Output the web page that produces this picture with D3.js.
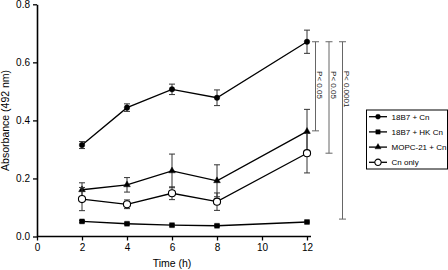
<!DOCTYPE html>
<html>
<head>
<meta charset="utf-8">
<script src="https://cdn.jsdelivr.net/npm/d3@7"></script>
<style>
  body { margin: 0; background: #fff; }
  svg { font-family: Arial, "Liberation Sans", sans-serif; }
</style>
</head>
<body>
<svg width="448" height="270"></svg>
<script>
const times = [2, 4, 6, 8, 12];
const seriesNames = ["18B7 + Cn", "18B7 + HK Cn", "MOPC-21 + Cn", "Cn only"];
const mean18B7 = [0.315, 0.444, 0.507, 0.478, 0.671];
const err18B7 = [0.012, 0.013, 0.018, 0.027, 0.04];
const meanHK = [0.052, 0.044, 0.039, 0.037, 0.05];
const errHK = [0.003, 0.003, 0.003, 0.003, 0.003];
const meanMOPC = [0.161, 0.178, 0.226, 0.192, 0.362];
const errMOPC = [0.024, 0.025, 0.058, 0.055, 0.076];
const meanCn = [0.129, 0.111, 0.149, 0.12, 0.287];
const errCn = [0.04, 0.015, 0.022, 0.03, 0.068];
const xTicks = [0, 2, 4, 6, 8, 10, 12];
const yTicks = [0.0, 0.2, 0.4, 0.6, 0.8];
const bracketTop = [0.671, 0.671, 0.671];
const bracketBottom = [0.364, 0.287, 0.06];
const bracketLabels = ["P< 0.05", "P< 0.05", "P< 0.0001"];

const svg = d3.select("svg");

const x = d3.scaleLinear().domain([0, 12]).range([37, 307]);
const y = d3.scaleLinear().domain([0, 0.8]).range([236.5, 4.3]);

const series = [
  { name: seriesNames[0], mean: mean18B7, err: err18B7, shape: "circle" },
  { name: seriesNames[1], mean: meanHK, err: errHK, shape: "square" },
  { name: seriesNames[2], mean: meanMOPC, err: errMOPC, shape: "triangle" },
  { name: seriesNames[3], mean: meanCn, err: errCn, shape: "open" },
];

const symbolPath = (shape, k) => {
  if (shape === "square") return d3.symbol(d3.symbolSquare, 24 * k)();
  if (shape === "triangle") return d3.symbol(d3.symbolTriangle, 20 * k)();
  if (shape === "open") return d3.symbol(d3.symbolCircle, 40 * k)();
  return d3.symbol(d3.symbolCircle, 24 * k)();
};

const drawMarker = (sel, shape, k = 1) => {
  sel.append("path")
    .attr("d", symbolPath(shape, k))
    .attr("fill", shape === "open" ? "#fff" : "#000")
    .attr("stroke", "#000")
    .attr("stroke-width", shape === "open" ? 1.1 : 0.4);
};

// axes
const xAxis = d3.axisBottom(x).tickValues(xTicks).tickFormat(d3.format("d")).tickSize(4).tickSizeOuter(0).tickPadding(3);
const yAxis = d3.axisLeft(y).tickValues(yTicks).tickFormat(d3.format(".1f")).tickSize(4).tickSizeOuter(0).tickPadding(3);

const gx = svg.append("g").attr("transform", `translate(0,${y(0)})`).call(xAxis);
const gy = svg.append("g").attr("transform", `translate(${x(0)},0)`).call(yAxis);
[gx, gy].forEach((g) => {
  g.select(".domain").attr("stroke-width", 1.6);
  g.selectAll(".tick line").attr("stroke-width", 1.3);
  g.selectAll(".tick text").attr("font-size", 10).attr("fill", "#000").attr("font-family", "Arial, 'Liberation Sans', sans-serif");
});
gx.select(".domain").attr("d", `M${x(0)},0H${x(12) + 4}`);

svg.append("text")
  .attr("x", 172).attr("y", 267)
  .attr("text-anchor", "middle").attr("font-size", 10.5)
  .text("Time (h)");

svg.append("text")
  .attr("transform", `translate(9,${(y(0) + y(0.8)) / 2}) rotate(-90)`)
  .attr("text-anchor", "middle").attr("font-size", 10.5)
  .text("Absorbance (492 nm)");

// lines, error bars, markers
const line = d3.line().x((d) => x(d.t)).y((d) => y(d.v));

series.forEach((s) => {
  const pts = times.map((t, i) => ({ t, v: s.mean[i], e: s.err[i] }));
  const g = svg.append("g");

  g.append("path")
    .attr("d", line(pts))
    .attr("fill", "none")
    .attr("stroke", "#000")
    .attr("stroke-width", 1.3);

  const eb = g.selectAll("g.eb").data(pts).enter().append("g").attr("class", "eb");
  eb.append("line")
    .attr("x1", (d) => x(d.t)).attr("x2", (d) => x(d.t))
    .attr("y1", (d) => y(d.v - d.e)).attr("y2", (d) => y(d.v + d.e))
    .attr("stroke", "#333").attr("stroke-width", 1);
  [-1, 1].forEach((sgn) => {
    eb.append("line")
      .attr("x1", (d) => x(d.t) - 3).attr("x2", (d) => x(d.t) + 3)
      .attr("y1", (d) => y(d.v + sgn * d.e)).attr("y2", (d) => y(d.v + sgn * d.e))
      .attr("stroke", "#333").attr("stroke-width", 1);
  });

  g.selectAll("g.mk").data(pts).enter().append("g")
    .attr("class", "mk")
    .attr("transform", (d) => `translate(${x(d.t)},${y(d.v)})`)
    .each(function () { drawMarker(d3.select(this), s.shape); });
});

// significance brackets
const bracketX = [315.5, 329, 342.5];
bracketLabels.forEach((lab, i) => {
  const g = svg.append("g").attr("stroke", "#666").attr("stroke-width", 1);
  const bx = bracketX[i];
  g.append("line").attr("x1", bx).attr("x2", bx).attr("y1", y(bracketTop[i])).attr("y2", y(bracketBottom[i]));
  g.append("line").attr("x1", bx - 3.5).attr("x2", bx + 3.5).attr("y1", y(bracketTop[i])).attr("y2", y(bracketTop[i]));
  g.append("line").attr("x1", bx - 3.5).attr("x2", bx + 3.5).attr("y1", y(bracketBottom[i])).attr("y2", y(bracketBottom[i]));
  svg.append("text")
    .attr("transform", `translate(${bx + 1.5},${i === 2 ? 89 : 85}) rotate(90)`)
    .attr("text-anchor", "middle")
    .attr("font-size", 8)
    .attr("fill", "#222")
    .text(lab);
});

// legend
const legend = svg.append("g");
legend.append("rect")
  .attr("x", 366.5).attr("y", 110)
  .attr("width", 81).attr("height", 59)
  .attr("fill", "#fff").attr("stroke", "#000").attr("stroke-width", 1);

series.forEach((s, i) => {
  const ly = 116.7 + i * 15.2;
  const row = legend.append("g").attr("transform", `translate(0,${ly})`);
  row.append("line").attr("x1", 369).attr("x2", 387).attr("y1", 0).attr("y2", 0)
    .attr("stroke", "#000").attr("stroke-width", 1.3);
  const m = row.append("g").attr("transform", "translate(378,0)");
  drawMarker(m, s.shape, 0.8);
  row.append("text")
    .attr("x", 391.5).attr("y", 3)
    .attr("font-size", 8)
    .text(s.name);
});
</script>
</body>
</html>
